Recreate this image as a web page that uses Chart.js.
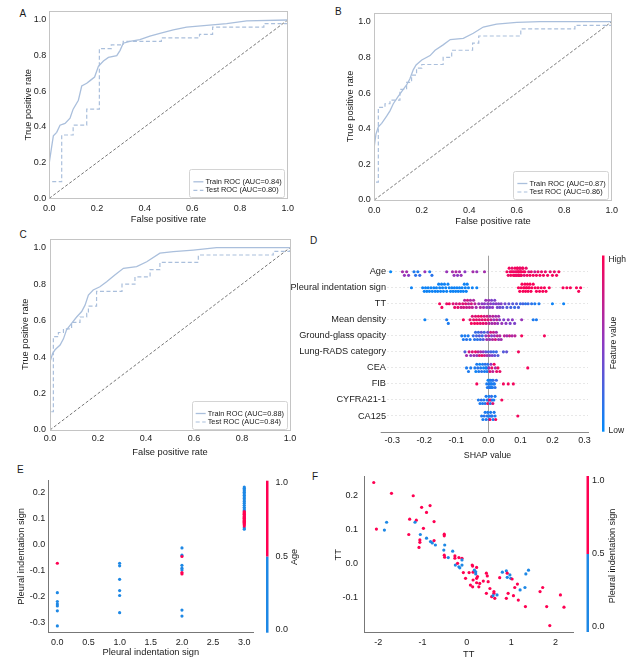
<!DOCTYPE html>
<html><head><meta charset="utf-8">
<script src="https://cdn.jsdelivr.net/npm/chart.js@4.4.0/dist/chart.umd.min.js"></script>
<style>
html,body{margin:0;padding:0;background:#fff;}
body{width:634px;height:663px;position:relative;overflow:hidden;font-family:'Liberation Sans',Arial,sans-serif;}
canvas{position:absolute;}
.lbl{position:absolute;font-size:10px;color:#1a1a1a;line-height:1;}
</style></head><body>
<div class="lbl" style="left:19.5px;top:9px">A</div>
<div class="lbl" style="left:335px;top:7px">B</div>
<div class="lbl" style="left:19.5px;top:230px">C</div>
<div class="lbl" style="left:310px;top:236px">D</div>
<div class="lbl" style="left:17px;top:465px">E</div>
<div class="lbl" style="left:312px;top:472px">F</div>
<script>
// ---------------- DATA ----------------
// ROC curves: [false positive rate, true positive rate]
const rocTrainA = [[0,0],[0,0.2],[0.01,0.29],[0.017,0.35],[0.031,0.37],[0.045,0.41],[0.066,0.42],[0.087,0.45],[0.1,0.5],[0.122,0.55],[0.136,0.63],[0.157,0.645],[0.171,0.66],[0.19,0.68],[0.206,0.74],[0.227,0.77],[0.248,0.79],[0.283,0.8],[0.297,0.83],[0.31,0.87],[0.338,0.88],[0.38,0.89],[0.422,0.91],[0.464,0.925],[0.52,0.945],[0.576,0.96],[0.66,0.97],[0.744,0.98],[0.828,0.995],[1,1]];
const rocTestA = [[0,0],[0,0.093],[0.052,0.093],[0.052,0.355],[0.1,0.355],[0.1,0.41],[0.157,0.41],[0.157,0.5],[0.21,0.5],[0.21,0.84],[0.26,0.84],[0.26,0.86],[0.31,0.86],[0.31,0.88],[0.47,0.88],[0.47,0.9],[0.63,0.9],[0.63,0.92],[0.685,0.92],[0.685,0.96],[0.9,0.96],[0.9,0.98],[1,0.98],[1,1]];
const rocTrainB = [[0,0],[0,0.15],[0,0.3],[0.007,0.37],[0.017,0.41],[0.031,0.43],[0.052,0.47],[0.066,0.5],[0.08,0.54],[0.1,0.58],[0.122,0.62],[0.136,0.645],[0.15,0.68],[0.164,0.73],[0.176,0.757],[0.2,0.785],[0.235,0.81],[0.256,0.84],[0.29,0.87],[0.32,0.9],[0.375,0.907],[0.417,0.935],[0.459,0.97],[0.515,0.987],[0.6,0.996],[0.698,1],[1,1]];
const rocTestB = [[0,0],[0,0.1],[0.017,0.1],[0.017,0.52],[0.045,0.52],[0.045,0.54],[0.066,0.54],[0.066,0.56],[0.108,0.56],[0.108,0.62],[0.136,0.62],[0.136,0.66],[0.157,0.66],[0.157,0.7],[0.178,0.7],[0.178,0.74],[0.2,0.74],[0.2,0.76],[0.29,0.76],[0.29,0.8],[0.326,0.8],[0.326,0.84],[0.414,0.84],[0.414,0.88],[0.44,0.88],[0.44,0.92],[0.617,0.92],[0.617,0.96],[0.845,0.96],[0.845,0.98],[1,0.98],[1,1]];
const rocTrainC = [[0,0],[0,0.15],[0,0.32],[0.004,0.38],[0.011,0.42],[0.021,0.44],[0.042,0.466],[0.056,0.5],[0.069,0.55],[0.09,0.585],[0.111,0.62],[0.132,0.65],[0.146,0.685],[0.16,0.74],[0.18,0.768],[0.208,0.786],[0.236,0.813],[0.27,0.85],[0.306,0.887],[0.361,0.896],[0.403,0.923],[0.458,0.97],[0.514,0.978],[0.597,0.987],[0.694,1],[1,1]];
const rocTestC = [[0,0],[0,0.1],[0.014,0.1],[0.014,0.512],[0.035,0.512],[0.035,0.535],[0.056,0.535],[0.056,0.555],[0.09,0.555],[0.09,0.59],[0.125,0.59],[0.125,0.62],[0.153,0.62],[0.153,0.64],[0.16,0.64],[0.16,0.68],[0.194,0.68],[0.194,0.76],[0.3,0.76],[0.3,0.8],[0.354,0.8],[0.354,0.84],[0.417,0.84],[0.417,0.88],[0.458,0.88],[0.458,0.92],[0.618,0.92],[0.618,0.96],[0.93,0.96],[0.93,0.98],[1,0.98],[1,1]];
const rocDiagonal = [[0,0],[1,1]];
const aucA = ['0.84','0.80'], aucB = ['0.87','0.86'], aucC = ['0.88','0.84'];
const rocTicks = [0,0.2,0.4,0.6,0.8,1.0];

// SHAP summary: [shap value, normalised feature value]
const FEATURES = ['Age','Pleural indentation sign','TT','Mean density','Ground-glass opacity','Lung-RADS category','CEA','FIB','CYFRA21-1','CA125'];
const shapAge = [[-0.305,0.02],[-0.268,0.6],[-0.262,0.55],[-0.255,0.6],[-0.249,0.5],[-0.232,0.1],[-0.227,0.15],[-0.22,0.1],[-0.214,0.2],[-0.198,0.55],[-0.183,0.1],[-0.176,0.15],[-0.13,0.55],[-0.112,0.6],[-0.107,0.55],[-0.101,0.65],[-0.096,0.5],[-0.09,0.6],[-0.085,0.55],[-0.073,0.5],[-0.048,0.6],[-0.036,0.55],[-0.012,0.6],
 [0.058,0.95],[0.062,0.9],[0.065,0.95],[0.068,0.9],[0.07,0.95],[0.072,0.95],[0.074,0.9],[0.076,0.95],[0.078,0.95],[0.08,0.9],[0.081,0.95],[0.083,0.95],[0.085,0.9],[0.086,0.95],[0.088,0.95],[0.089,0.9],[0.09,0.95],[0.091,0.95],[0.092,0.9],[0.093,0.95],[0.094,0.95],[0.095,0.9],[0.096,0.95],[0.097,0.95],[0.098,0.95],[0.099,0.9],[0.1,0.95],[0.101,0.95],[0.102,0.9],[0.103,0.95],[0.104,0.95],[0.106,0.9],[0.108,0.95],[0.11,0.95],[0.112,0.85],[0.114,0.95],[0.118,0.9],[0.121,0.95],[0.126,0.8],[0.13,0.95],[0.134,0.9],[0.14,0.95],[0.145,0.75],[0.15,0.95],[0.155,0.9],[0.161,0.95],[0.166,0.9],[0.172,0.95],[0.178,0.9],[0.185,0.95],[0.193,0.9],[0.2,0.95],[0.206,0.9],[0.213,0.95],[0.22,0.95]];
const shapPleural = [[-0.24,0.05],[-0.205,0.05],[-0.2,0.05],[-0.196,0.05],[-0.192,0.05],[-0.188,0.05],[-0.184,0.05],[-0.179,0.05],[-0.175,0.05],[-0.17,0.05],[-0.166,0.05],[-0.162,0.05],[-0.158,0.05],[-0.155,0.05],[-0.152,0.05],[-0.149,0.05],[-0.146,0.05],[-0.143,0.05],[-0.14,0.05],[-0.137,0.05],[-0.133,0.05],[-0.13,0.05],[-0.126,0.05],[-0.122,0.05],[-0.118,0.05],[-0.114,0.05],[-0.11,0.05],[-0.106,0.05],[-0.102,0.05],[-0.098,0.05],[-0.094,0.05],[-0.09,0.05],[-0.086,0.05],[-0.082,0.05],[-0.078,0.05],[-0.075,0.05],[-0.072,0.05],[-0.069,0.05],[-0.066,0.05],[-0.062,0.05],[-0.05,0.05],[-0.036,0.05],
 [0.094,0.97],[0.098,0.97],[0.102,0.97],[0.105,0.97],[0.108,0.97],[0.11,0.97],[0.112,0.97],[0.114,0.97],[0.116,0.97],[0.118,0.97],[0.12,0.97],[0.122,0.97],[0.124,0.97],[0.126,0.97],[0.128,0.97],[0.13,0.97],[0.133,0.97],[0.136,0.97],[0.14,0.97],[0.146,0.97],[0.15,0.97],[0.155,0.97],[0.16,0.97],[0.165,0.97],[0.17,0.97],[0.175,0.97],[0.18,0.97],[0.19,0.97],[0.233,0.97],[0.245,0.97],[0.256,0.97],[0.275,0.97],[0.282,0.97],[0.288,0.97]];
const shapTT = [[-0.152,0.95],[-0.145,0.95],[-0.13,0.9],[-0.122,0.95],[-0.11,0.85],[-0.105,0.9],[-0.1,0.8],[-0.095,0.9],[-0.09,0.85],[-0.085,0.75],[-0.08,0.85],[-0.077,0.8],[-0.074,0.7],[-0.071,0.85],[-0.068,0.75],[-0.065,0.8],[-0.062,0.7],[-0.059,0.75],[-0.056,0.65],[-0.053,0.8],[-0.05,0.7],[-0.046,0.65],[-0.042,0.7],[-0.038,0.6],[-0.03,0.55],[-0.025,0.6],[-0.02,0.5],[-0.015,0.55],[-0.012,0.5],[-0.008,0.55],[-0.005,0.45],[-0.002,0.5],[0.001,0.55],[0.004,0.45],[0.007,0.5],[0.01,0.45],[0.013,0.5],[0.016,0.4],[0.02,0.45],[0.024,0.5],[0.028,0.4],[0.032,0.45],[0.036,0.4],[0.04,0.45],[0.045,0.35],[0.052,0.4],[0.058,0.3],[0.064,0.35],[0.07,0.25],[0.076,0.3],[0.082,0.2],[0.088,0.3],[0.094,0.25],[0.1,0.2],[0.108,0.25],[0.116,0.15],[0.124,0.2],[0.135,0.15],[0.145,0.1],[0.158,0.1],[0.2,0.05],[0.235,0.05]];
const shapMeanDensity = [[-0.198,0.05],[-0.13,0.1],[-0.125,0.1],[-0.078,0.95],[-0.057,0.9],[-0.053,0.95],[-0.05,0.85],[-0.046,0.9],[-0.043,0.95],[-0.04,0.85],[-0.037,0.9],[-0.034,0.95],[-0.031,0.9],[-0.028,0.85],[-0.025,0.9],[-0.022,0.95],[-0.019,0.85],[-0.016,0.9],[-0.013,0.8],[-0.01,0.9],[-0.007,0.85],[-0.004,0.8],[-0.001,0.85],[0.002,0.7],[0.005,0.65],[0.008,0.75],[0.011,0.6],[0.014,0.7],[0.017,0.55],[0.02,0.65],[0.023,0.6],[0.026,0.7],[0.029,0.55],[0.032,0.6],[0.035,0.5],[0.042,0.55],[0.048,0.45],[0.055,0.5],[0.062,0.5],[0.068,0.45],[0.075,0.5],[0.082,0.45],[0.104,0.55],[0.14,0.1],[0.15,0.1]];
const shapGGO = [[-0.083,0.1],[-0.078,0.1],[-0.073,0.1],[-0.068,0.15],[-0.063,0.1],[-0.057,0.1],[-0.047,0.2],[-0.043,0.15],[-0.04,0.2],[-0.037,0.25],[-0.034,0.15],[-0.031,0.2],[-0.028,0.3],[-0.025,0.2],[-0.022,0.35],[-0.019,0.2],[-0.016,0.3],[-0.013,0.25],[-0.008,0.5],[-0.005,0.6],[-0.002,0.4],[0.001,0.7],[0.004,0.55],[0.007,0.8],[0.01,0.45],[0.013,0.65],[0.016,0.75],[0.019,0.55],[0.022,0.8],[0.025,0.6],[0.028,0.7],[0.032,0.55],[0.036,0.65],[0.04,0.6],[0.05,0.7],[0.058,0.6],[0.066,0.75],[0.074,0.65],[0.083,0.7],[0.104,0.95],[0.175,0.95]];
const shapLungRADS = [[-0.073,0.3],[-0.068,0.6],[-0.06,0.8],[-0.055,0.5],[-0.05,0.85],[-0.045,0.6],[-0.04,0.9],[-0.036,0.55],[-0.032,0.7],[-0.028,0.85],[-0.024,0.6],[-0.02,0.9],[-0.016,0.5],[-0.012,0.75],[-0.008,0.35],[-0.004,0.6],[0,0.3],[0.004,0.5],[0.008,0.25],[0.012,0.45],[0.016,0.2],[0.02,0.35],[0.025,0.2],[0.03,0.3],[0.047,0.3],[0.057,0.35],[0.094,0.95]];
const shapCEA = [[-0.068,0.1],[-0.062,0.1],[-0.055,0.1],[-0.042,0.1],[-0.039,0.05],[-0.036,0.1],[-0.033,0.15],[-0.03,0.1],[-0.027,0.05],[-0.024,0.1],[-0.021,0.15],[-0.018,0.1],[-0.015,0.05],[-0.012,0.1],[-0.01,0.15],[-0.008,0.1],[-0.006,0.05],[-0.004,0.1],[-0.002,0.15],[0,0.1],[0.002,0.6],[0.005,0.85],[0.008,0.5],[0.011,0.9],[0.014,0.7],[0.018,0.95],[0.022,0.6],[0.026,0.9],[0.03,0.95],[0.036,0.9],[0.123,0.95]];
const shapFIB = [[-0.036,0.95],[-0.005,0.1],[-0.003,0.1],[-0.001,0.05],[0.001,0.1],[0.002,0.15],[0.003,0.1],[0.004,0.05],[0.005,0.1],[0.006,0.1],[0.007,0.15],[0.008,0.1],[0.009,0.05],[0.01,0.1],[0.011,0.1],[0.012,0.05],[0.013,0.1],[0.015,0.15],[0.017,0.1],[0.019,0.1],[0.021,0.15],[0.025,0.2],[0.047,0.95],[0.062,0.95],[0.078,0.95]];
const shapCYFRA = [[-0.031,0.1],[-0.026,0.1],[-0.022,0.15],[-0.018,0.1],[-0.014,0.1],[-0.01,0.15],[-0.007,0.1],[-0.004,0.1],[-0.002,0.9],[0,0.15],[0.002,0.1],[0.004,0.95],[0.006,0.1],[0.008,0.9],[0.01,0.15],[0.012,0.1],[0.014,0.85],[0.017,0.1],[0.021,0.1],[0.042,0.95]];
const shapCA125 = [[-0.021,0.1],[-0.017,0.1],[-0.013,0.15],[-0.01,0.1],[-0.007,0.1],[-0.004,0.15],[-0.002,0.1],[0,0.1],[0.002,0.15],[0.004,0.1],[0.005,0.95],[0.007,0.1],[0.009,0.1],[0.012,0.15],[0.015,0.1],[0.018,0.1],[0.021,0.1],[0.023,0.95],[0.092,0.95]];
const shapTicks = [-0.3,-0.2,-0.1,0,0.1,0.2,0.3];

// Dependence plot E: [pleural indentation sign, SHAP value, Age (0/1)]
const depE = [[0,-0.186,0],[0,-0.22,0],[0,-0.23,0],[0,-0.237,0],[0,-0.256,0],[0,-0.314,0],[0,-0.073,1],
 [1,-0.073,0],[1,-0.083,0],[1,-0.135,0],[1,-0.178,0],[1,-0.197,0],[1,-0.263,0],
 [2,-0.014,0],[2,-0.042,0],[2,-0.081,0],[2,-0.092,0],[2,-0.099,0],[2,-0.253,0],[2,-0.276,0],[2,-0.047,1],[2,-0.109,1],[2,-0.114,1],
 [3,0.22,0],[3,0.215,0],[3,0.21,0],[3,0.205,0],[3,0.2,0],[3,0.194,0],[3,0.188,0],[3,0.182,0],[3,0.176,0],[3,0.17,0],[3,0.164,0],[3,0.158,0],[3,0.15,0],[3,0.142,0],[3,0.136,0],[3,0.13,0],[3,0.063,0],[3,0.058,0],
 [3,0.126,1],[3,0.122,1],[3,0.118,1],[3,0.115,1],[3,0.112,1],[3,0.109,1],[3,0.106,1],[3,0.103,1],[3,0.1,1],[3,0.097,1],[3,0.094,1],[3,0.091,1],[3,0.088,1],[3,0.085,1],[3,0.082,1],[3,0.079,1],[3,0.075,1],[3,0.07,1]];
const depETicksX = [0,0.5,1,1.5,2,2.5,3];
const depETicksY = [-0.3,-0.2,-0.1,0,0.1,0.2];
// Dependence plot F: [TT, SHAP value, pleural indentation sign (0/1)]
const depF = [[-2.1,0.239,1],[-2.04,0.102,1],[-1.81,0.122,0],[-1.86,0.099,0],[-1.7,0.207,1],[-1.21,0.2,1],[-1.29,0.131,1],[-1.31,0.086,1],[-1.14,0.128,1],[-1.17,0.122,0],[-1.02,0.166,1],[-0.83,0.171,1],[-0.91,0.151,1],[-0.98,0.104,1],[-1.05,0.086,0],[-1.06,0.07,1],[-1.06,0.063,1],[-1.08,0.048,1],[-0.74,0.124,1],[-0.91,0.075,0],[-0.82,0.065,0],[-0.78,0.061,0],[-0.74,0.068,1],[-0.71,0.055,0],
 [-0.51,0.087,1],[-0.51,0.082,1],[-0.5,0.055,0],[-0.52,0.04,0],[-0.51,0.025,1],[-0.5,0.019,1],[-0.42,0.018,0],[-0.32,0.037,0],[-0.27,0.023,1],[-0.27,0.016,1],[-0.18,0.018,1],[-0.11,0.016,1],[-0.11,0.011,0],[-0.26,-0.004,0],[-0.21,0.001,1],[-0.18,-0.009,0],[-0.16,-0.012,0],[-0.11,-0.004,0],[-0.08,-0.026,1],[-0.03,-0.043,1],
 [0.05,-0.026,1],[0.12,-0.004,1],[0.13,-0.007,1],[0.14,-0.025,1],[0.17,-0.019,0],[0.2,-0.024,0],[0.22,-0.011,1],[0.2,-0.03,0],[0.22,-0.043,1],[0.24,-0.038,1],[0.14,-0.048,1],[0.08,-0.063,1],[0.13,-0.068,1],[0.22,-0.056,1],[0.27,-0.068,1],[0.29,-0.058,1],[0.37,-0.051,1],[0.44,-0.028,1],[0.46,-0.036,1],[0.48,-0.053,1],[0.44,-0.087,1],[0.52,-0.073,1],[0.56,-0.097,1],[0.61,-0.082,1],[0.61,-0.087,1],[0.59,-0.094,0],[0.63,-0.102,1],[0.68,-0.092,0],
 [0.74,-0.041,1],[0.8,-0.025,0],[0.89,-0.021,0],[0.91,-0.028,1],[0.91,-0.04,0],[0.89,-0.102,1],[0.93,-0.087,1],[0.97,-0.033,0],[0.99,-0.043,0],[1.02,-0.045,1],[1.05,-0.094,1],[1.08,-0.07,1],[1.14,-0.06,1],[1.16,-0.107,1],[1.2,-0.077,0],[1.31,-0.07,0],[1.33,-0.03,0],[1.39,-0.019,0],[1.32,-0.126,1],[1.65,-0.082,1],[1.71,-0.07,1],[1.8,-0.126,1],[1.87,-0.182,1],[2.11,-0.092,1],[2.19,-0.128,1]];
const depFTicksX = [-2,-1,0,1,2];
const depFTicksY = [-0.1,0,0.1,0.2];

// ---------------- STYLE ----------------
const FONT = "'Liberation Sans',Arial,sans-serif";
Chart.defaults.font.family = FONT;
Chart.defaults.font.size = 9;
Chart.defaults.color = '#1a1a1a';
const INK = '#1a1a1a';
const ROC_COLOR = '#aabfdc';
const RED = '#ff0052', BLUE = '#1e88e5';
const TITLE_SIZE = 9.3;

function shapColor(v){
  const s=[[0,[0,139,251]],[0.5,[140,58,195]],[1,[255,0,82]]];
  let i = v<=0.5?0:1; const a=s[i], b=s[i+1]; const t=(v-a[0])/(b[0]-a[0]);
  const c=a[1].map((x,k)=>Math.round(x+(b[1][k]-x)*t));
  return `rgb(${c[0]},${c[1]},${c[2]})`;
}

// --------------- PLUGINS ----------------
const framePlugin = {id:'frame', afterDatasetsDraw(ch,args,o){
  if(!o||!o.color) return; const a=ch.chartArea,c=ch.ctx; c.save();
  c.strokeStyle=o.color; c.lineWidth=1;
  c.strokeRect(Math.round(a.left)+0.5,Math.round(a.top)+0.5,Math.round(a.right-a.left),Math.round(a.bottom-a.top)); c.restore();
}};
const rocLegendPlugin = {id:'rocLegend', afterDraw(ch,args,o){
  if(!o||!o.show) return; const a=ch.chartArea,c=ch.ctx; c.save();
  c.font = `${o.size}px ${FONT}`;
  const ds = ch.data.datasets.slice(0,2);
  const tw = Math.max(...ds.map(d=>c.measureText(d.label).width));
  const w = tw+19, h=o.h, right=a.right-3, bottom=a.bottom-1.5, left=right-w, top=bottom-h;
  c.fillStyle='#fff'; c.strokeStyle='#d4d4d4'; c.lineWidth=1;
  c.beginPath(); c.roundRect(Math.round(left)+0.5,Math.round(top)+0.5,Math.round(w),Math.round(h),2); c.fill(); c.stroke();
  ds.forEach((d,i)=>{
    const y=bottom-o.rows[i];
    c.strokeStyle=d.borderColor; c.lineWidth=d.borderWidth; c.setLineDash(d.borderDash||[]);
    c.beginPath(); c.moveTo(left+4,y); c.lineTo(left+14,y); c.stroke(); c.setLineDash([]);
    c.fillStyle=INK; c.textBaseline='middle'; c.textAlign='left'; c.fillText(d.label,left+16,y);
  });
  c.restore();
}};
const zeroLinePlugin = {id:'zeroLine', beforeDatasetsDraw(ch,args,o){
  if(!o||!o.show) return; const a=ch.chartArea,c=ch.ctx,x=Math.round(ch.scales.x.getPixelForValue(0))+0.5;
  c.save(); c.strokeStyle='#a0a0a0'; c.lineWidth=1; c.beginPath(); c.moveTo(x,a.top); c.lineTo(x,a.bottom); c.stroke();
  if(o.spineFrom!==undefined){ const y=Math.round(a.bottom)+0.5; c.strokeStyle=o.spineColor; c.beginPath(); c.moveTo(o.spineFrom,y); c.lineTo(a.left+1,y); c.stroke(); }
  c.restore();
}};
const cbarPlugin = {id:'cbar', afterDraw(ch,args,o){
  if(!o||!o.show) return; const c=ch.ctx; c.save();
  const x=o.x-o.ox, t=o.top-o.oy, b=o.bottom-o.oy, w=o.w;
  if(o.binary){
    const m=(t+b)/2; c.fillStyle=RED; c.fillRect(x,t,w,m-t); c.fillStyle=BLUE; c.fillRect(x,m,w,b-m);
  } else {
    const g=c.createLinearGradient(0,b,0,t);
    for(let i=0;i<=10;i++) g.addColorStop(i/10, shapColor(i/10));
    c.fillStyle=g; c.fillRect(x,t,w,b-t);
  }
  c.font=`${o.size}px ${FONT}`; c.fillStyle=INK; c.textBaseline='middle'; c.textAlign='left';
  o.labels.forEach(l=>c.fillText(l[0], x+w+o.dx, l[1]-o.oy));
  c.translate(o.titleX-o.ox, o.titleY-o.oy); c.rotate(-Math.PI/2); c.textAlign='center';
  c.font=`${o.titleSize}px ${FONT}`; c.fillText(o.title,0,0);
  c.restore();
}};

// --------------- LAYOUT HELPER ----------------
function mk(cv, area, cfg, t){
  const c=document.createElement('canvas');
  Object.assign(c.style,{left:cv.l+'px',top:cv.t+'px',width:cv.w+'px',height:cv.h+'px'});
  c.width=cv.w; c.height=cv.h; document.body.appendChild(c);
  const o=cfg.options; o.responsive=false; o.animation=false; o.devicePixelRatio=1;
  o.layout={padding:{left:0,top:area.t-cv.t,right:cv.l+cv.w-area.r,bottom:0}};
  const sx=o.scales.x, sy=o.scales.y;
  sy.afterFit=s=>{s.width=area.l-cv.l;};
  sx.afterFit=s=>{s.height=cv.t+cv.h-area.b;};
  if(t.yTitle) sy.title={display:true,text:t.yTitle,color:INK,font:{size:TITLE_SIZE},padding:{top:t.yTitleX-cv.l-TITLE_SIZE*0.6,bottom:0}};
  const xs=t.xTitleSize||TITLE_SIZE;
  if(t.xTitle) sx.title={display:true,text:t.xTitle,color:INK,font:{size:xs},padding:{top:0,bottom:cv.t+cv.h-t.xTitleY-xs*0.6}};
  return new Chart(c,cfg);
}
const pts = arr => arr.map(p=>({x:p[0],y:p[1]}));
const setTicks = vals => (s => { s.ticks = vals.map(v=>({value:v})); });

function rocChart(cv, area, train, test, auc, tk, titles){
  const cfg={type:'scatter',
    data:{datasets:[
      {label:`Train ROC (AUC=${auc[0]})`,data:pts(train),showLine:true,borderColor:ROC_COLOR,borderWidth:1.3,pointRadius:0,tension:0},
      {label:`Test ROC (AUC=${auc[1]})`,data:pts(test),showLine:true,borderColor:ROC_COLOR,borderWidth:1.2,borderDash:[4,2.5],pointRadius:0,tension:0},
      {label:'chance',data:pts(rocDiagonal),showLine:true,borderColor:'#666',borderWidth:0.9,borderDash:[3,2],pointRadius:0}
    ]},
    options:{events:[],plugins:{legend:{display:false},tooltip:{enabled:false},frame:{color:'#c4c4c4'},rocLegend:{show:true,size:7.4,h:28,rows:[15,6.5]}},
      scales:{
        x:{type:'linear',min:0,max:1,afterBuildTicks:setTicks(rocTicks),grid:{display:false,drawTicks:false},border:{display:false},ticks:{padding:tk.xp,callback:v=>v.toFixed(1),color:INK}},
        y:{type:'linear',min:0,max:1.05,afterBuildTicks:setTicks(rocTicks),grid:{display:false,drawTicks:false},border:{display:false},ticks:{padding:tk.yp,callback:v=>v.toFixed(1),color:INK}}
      }},
    plugins:[framePlugin,rocLegendPlugin]};
  return mk(cv,area,cfg,titles);
}

rocChart({l:0,t:0,w:300,h:228},{l:49.3,t:11.1,r:287.7,b:198.3},rocTrainA,rocTestA,aucA,{xp:4.6,yp:3},
  {yTitle:'True positive rate',yTitleX:28,xTitle:'False positive rate',xTitleY:219});
rocChart({l:310,t:0,w:324,h:228},{l:374.3,t:12.8,r:611.7,b:200},rocTrainB,rocTestB,aucB,{xp:5.3,yp:3.5},
  {yTitle:'True positive rate',yTitleX:350,xTitle:'False positive rate',xTitleY:221});
rocChart({l:0,t:228,w:300,h:234},{l:50,t:238.6,r:290,b:430},rocTrainC,rocTestC,aucC,{xp:3.6,yp:4},
  {yTitle:'True positive rate',yTitleX:25,xTitle:'False positive rate',xTitleY:452});

// ---- D: SHAP beeswarm (vertical jitter computed from the values) ----
const PX_PER_SHAP = 320.5, ROW_PX = 16.03;
function swarm(vals){
  const d=2.4, step=1.8, maxK=4;
  const order=vals.map((v,i)=>i).sort((a,b)=>vals[a]-vals[b]);
  const placed=[], off=new Array(vals.length).fill(0);
  for(const i of order){
    const x=vals[i]*PX_PER_SHAP;
    const near=placed.filter(p=>Math.abs(p.x-x)<d);
    let best=0,bestN=1e9;
    for(let k=0;k<=maxK;k++){
      const o=(k===0?0:(k%2?Math.ceil(k/2):-k/2))*step;
      const n=near.filter(p=>Math.abs(p.o-o)<d).length;
      if(n===0){best=o;bestN=0;break;}
      if(n<bestN){bestN=n;best=o;}
    }
    placed.push({x,o:best}); off[i]=best;
  }
  return off.map(o=>o/ROW_PX);
}
const shapRows=[shapAge,shapPleural,shapTT,shapMeanDensity,shapGGO,shapLungRADS,shapCEA,shapFIB,shapCYFRA,shapCA125];
const dsD=shapRows.map((rows,r)=>{
  const offs=swarm(rows.map(p=>p[0]));
  return {label:FEATURES[r],data:rows.map((p,i)=>({x:p[0],y:r+offs[i]})),backgroundColor:rows.map(p=>shapColor(p[1])),pointRadius:1.55,borderWidth:0};
});
const cvD={l:250,t:232,w:384,h:232};
const D_SPINE='#8a8a8a';
mk(cvD,{l:387,t:255.7,r:588,b:432},{type:'scatter',data:{datasets:dsD},
  options:{events:[],plugins:{legend:{display:false},tooltip:{enabled:false},zeroLine:{show:true,spineFrom:380.7-cvD.l,spineColor:D_SPINE},
    cbar:{show:true,ox:cvD.l,oy:cvD.t,x:602,top:255.5,bottom:431.7,w:2.5,dx:4,size:8.5,labels:[['High',260],['Low',431]],title:'Feature value',titleX:614,titleY:343,titleSize:8.6}},
    scales:{
      x:{type:'linear',min:-0.3163,max:0.311,afterBuildTicks:setTicks(shapTicks),grid:{display:false,drawTicks:false},border:{display:true,color:D_SPINE,width:1},ticks:{padding:3.3,callback:v=>v.toFixed(1),color:INK}},
      y:{type:'linear',reverse:true,min:-1,max:10,afterBuildTicks:setTicks([0,1,2,3,4,5,6,7,8,9]),grid:{display:true,drawTicks:false,color:'#e3e3e3',lineWidth:0.8},border:{display:false,dash:[2,2]},ticks:{padding:1,font:{size:9.2},color:INK,callback:v=>FEATURES[Math.round(v)]}}
    }},
  plugins:[zeroLinePlugin,cbarPlugin]},
  {xTitle:'SHAP value',xTitleY:456,xTitleSize:8.8});

// ---- E & F: dependence plots ----
function depChart(cv, area, data, rx, ry, tx, ty, fmtX, tk, cb, titles){
  const cfg={type:'scatter',data:{datasets:[{label:'dep',data:data.map(p=>({x:p[0],y:p[1]})),backgroundColor:data.map(p=>p[2]?RED:BLUE),pointRadius:1.6,borderWidth:0}]},
    options:{events:[],plugins:{legend:{display:false},tooltip:{enabled:false},cbar:Object.assign({show:true,ox:cv.l,oy:cv.t,binary:true,w:2.5,size:9,titleSize:9.1},cb)},
      scales:{
        x:{type:'linear',min:rx[0],max:rx[1],afterBuildTicks:setTicks(tx),grid:{display:false,drawTicks:false},border:{display:true,color:'#777'},ticks:{padding:tk.xp,callback:fmtX,color:INK}},
        y:{type:'linear',min:ry[0],max:ry[1],afterBuildTicks:setTicks(ty),grid:{display:false,drawTicks:false},border:{display:true,color:'#777'},ticks:{padding:tk.yp,callback:v=>v.toFixed(1),color:INK}}
      }},
    plugins:[cbarPlugin]};
  return mk(cv,area,cfg,titles);
}
depChart({l:0,t:462,w:310,h:201},{l:48.3,t:480,r:253.3,b:632.7},depE,[-0.145,3.145],[-0.34,0.247],depETicksX,depETicksY,v=>v.toFixed(1),{xp:4.6,yp:3},
  {x:266,top:480.7,bottom:632.7,dx:7,labels:[['1.0',483],['0.5',556.5],['0.0',630]],title:'Age',titleX:294,titleY:557},
  {yTitle:'Pleural indentation sign',yTitleX:21.7,xTitle:'Pleural indentation sign',xTitleY:652.7});
depChart({l:310,t:462,w:324,h:201},{l:364,t:476.7,r:573.3,b:632.7},depF,[-2.32,2.4],[-0.203,0.256],depFTicksX,depFTicksY,v=>String(v),{xp:4.6,yp:6},
  {x:586.5,top:476,bottom:632,dx:3,labels:[['1.0',481],['0.5',554],['0.0',627]],title:'Pleural indentation sign',titleX:612,titleY:556},
  {yTitle:'TT',yTitleX:338.3,xTitle:'TT',xTitleY:654});
</script>
</body></html>
